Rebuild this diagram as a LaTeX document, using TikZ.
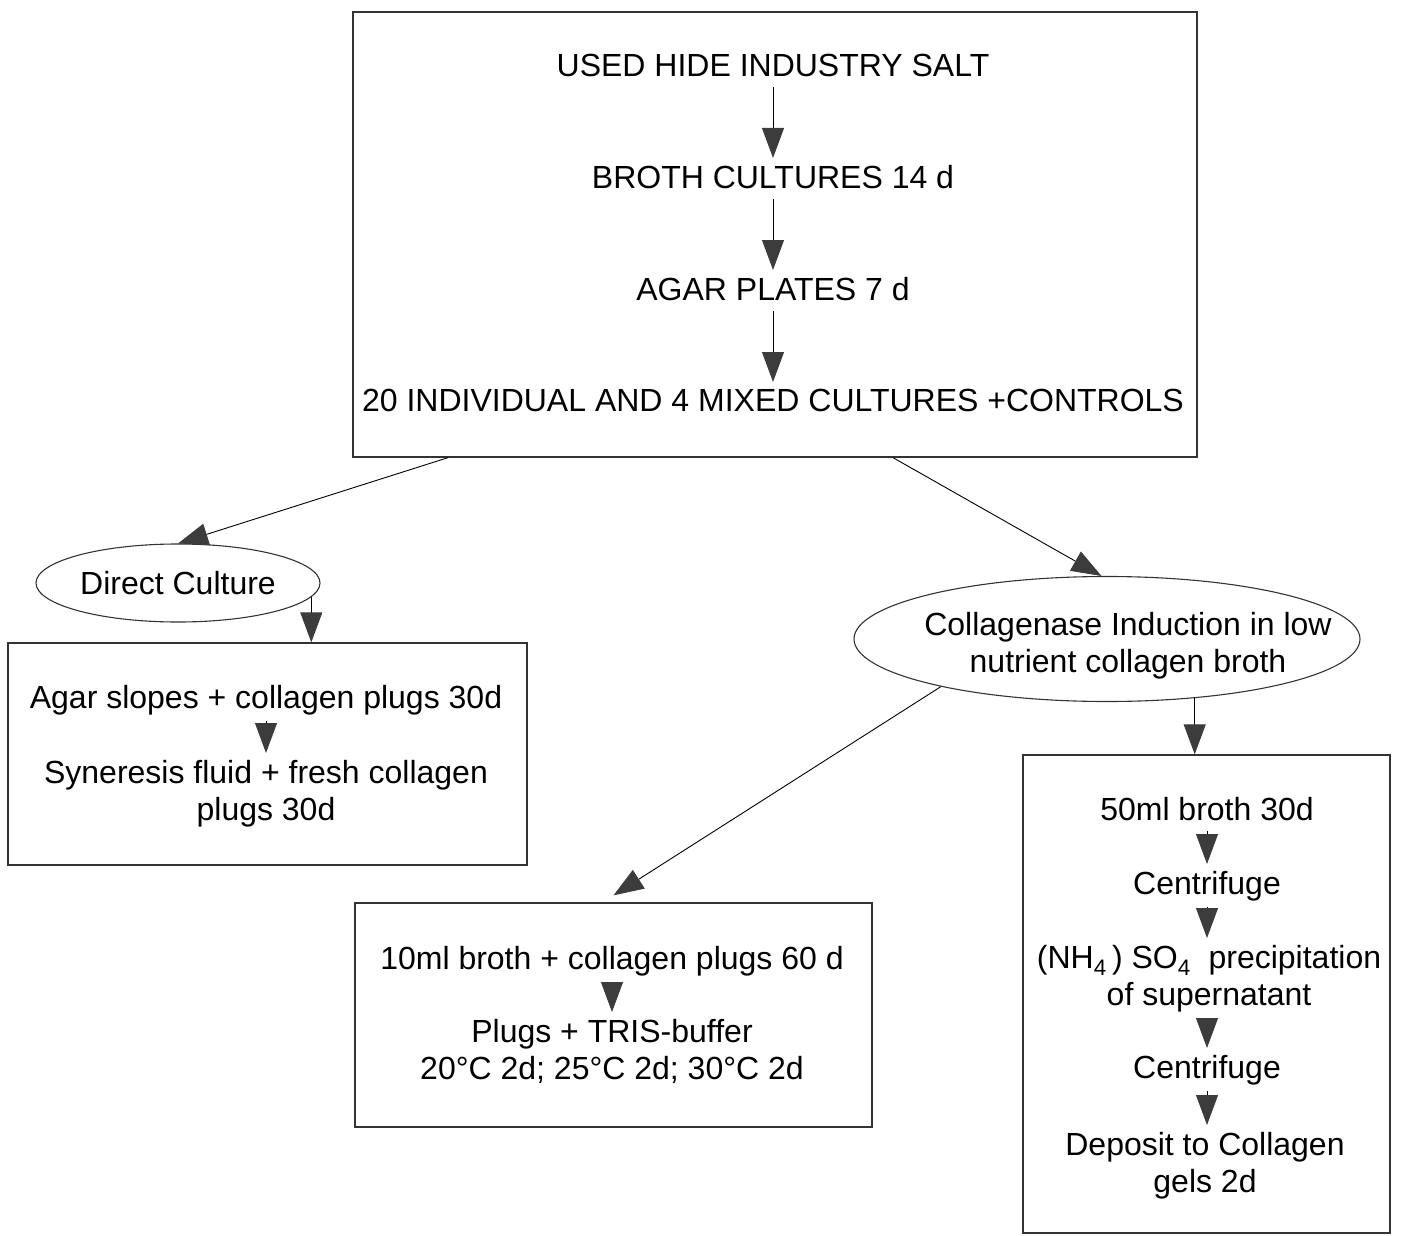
\documentclass[tikz,border=0pt]{standalone}
\usepackage{fontspec}
\setmainfont{Liberation Sans}
\usetikzlibrary{positioning, shapes.geometric, arrows.meta, calc}
\definecolor{boxline}{HTML}{333333}
\definecolor{tipgray}{HTML}{3C3C3C}

\begin{document}
\begin{tikzpicture}[x=1pt, y=-1pt,
    txt/.style={inner sep=0pt, font=\fontsize{32}{37}\selectfont, align=center, anchor=north},
    stagebox/.style={draw=boxline, line width=1.3pt, inner sep=0pt},
    oval/.style={ellipse, draw=boxline, line width=1.1pt, inner sep=0pt,
                 font=\fontsize{32}{37}\selectfont, align=center},
    flow/.style={draw=black, line width=0.9pt, -{Triangle[width=22pt, length=30pt, color=tipgray]}},
    inflow/.style={flow, shorten <=6pt, shorten >=7pt}]
  \useasboundingbox (0,0) rectangle (1406,1236);

  % isolation
  \node[stagebox, minimum width=844pt, minimum height=445pt] (main) at (775,234.5) {};
  \node[txt] (salt) at (773,54) {USED HIDE INDUSTRY SALT};
  \node[txt] (broth) at (773,165) {BROTH CULTURES 14 d};
  \node[txt] (plates) at (773,277) {AGAR PLATES 7 d};
  \node[txt] (cult) at (773,389) {20 INDIVIDUAL AND 4 MIXED CULTURES +CONTROLS};
  \draw[inflow, shorten <=10pt] (salt) -- (broth);
  \draw[inflow, shorten <=10pt] (broth) -- (plates);
  \draw[inflow, shorten <=10pt] (plates) -- (cult);

  % direct culture
  \node[oval, minimum width=284pt, minimum height=78pt] (dc) at (178,583) {Direct Culture};
  \node[stagebox, minimum width=519pt, minimum height=222pt] (lbox) at (267.5,754) {};
  \node[txt] (slopes) at (266,685) {Agar slopes + collagen plugs 30d};
  \node[txt] (syn) at (266,760) {Syneresis fluid + fresh collagen\\plugs 30d};
  \draw[inflow] (slopes) -- (syn);

  % collagenase induction
  \node[oval, minimum width=506pt, minimum height=125pt] (ind) at (1107,639) {};
  \node[txt] (indtext) at (1128,612) {Collagenase Induction in low\\nutrient collagen broth};

  \node[stagebox, minimum width=517pt, minimum height=224pt] (mbox) at (613.5,1015) {};
  \node[txt] (tubes) at (612,946) {10ml broth + collagen plugs 60 d};
  \node[txt] (tris) at (612,1019) {Plugs + TRIS-buffer\\20°C 2d; 25°C 2d; 30°C 2d};
  \draw[inflow] (tubes) -- (tris);

  \node[stagebox, minimum width=367pt, minimum height=478pt] (rbox) at (1206.5,994) {};
  \node[txt] (flask) at (1207,797) {50ml broth 30d};
  \node[txt] (spin) at (1207,871) {Centrifuge};
  \node[txt] (salting) at (1209,945) {(NH\textsubscript{4}\,) SO\textsubscript{4}\ \ precipitation\\of supernatant};
  \node[txt] (respin) at (1207,1055) {Centrifuge};
  \node[txt] (gels) at (1205,1132) {Deposit to Collagen\\gels 2d};
  \draw[inflow, shorten <=10pt] (flask) -- (spin);
  \draw[inflow] (spin.south) -- (spin.south |- salting.north);
  \draw[inflow] (respin.north |- salting.south) -- (respin.north);
  \draw[inflow] (respin.south) -- (respin.south |- gels.north);

  % branches
  \draw[flow] ([xshift=-327pt]main.south) -- (dc.north);
  \draw[flow] ([xshift=118pt]main.south) -- (ind.95);
  \draw[flow] (dc.-6.2) -- (dc.-6.2 |- lbox.north);
  \draw[flow] (ind.-34.4) -- (ind.-34.4 |- rbox.north);
  \draw[flow] (ind.196.1) -- ([yshift=7pt]mbox.north);
\end{tikzpicture}
\end{document}
